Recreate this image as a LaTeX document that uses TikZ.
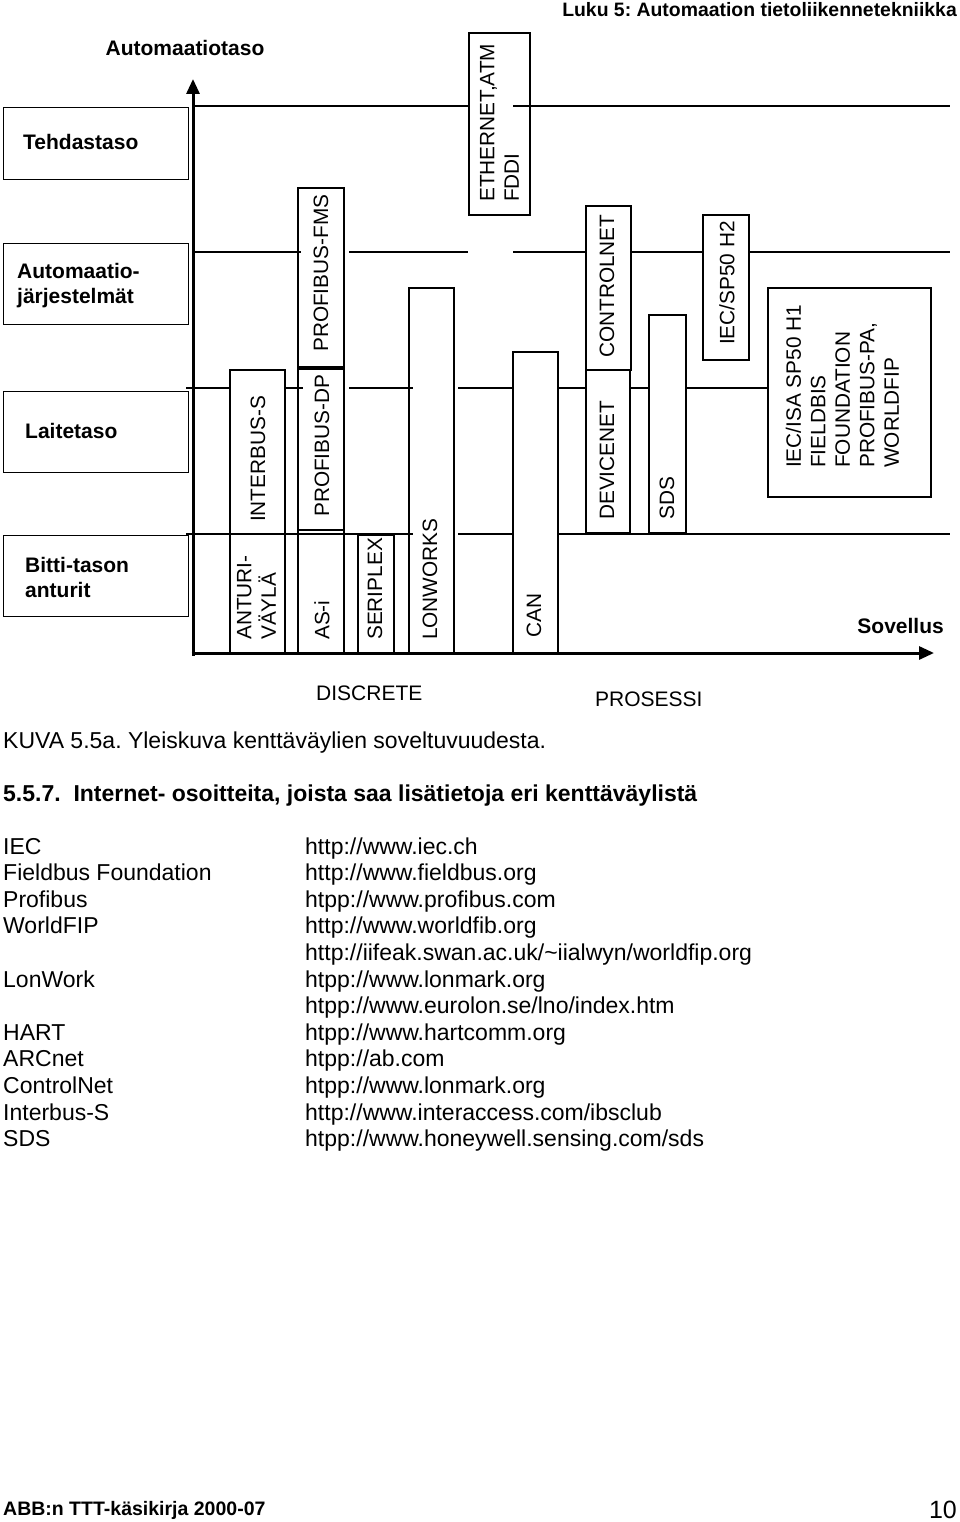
\documentclass[tikz,border=0pt]{standalone}
\usepackage{fontspec}
\setmainfont{Liberation Sans}
\usetikzlibrary{arrows.meta}
\frenchspacing
\begin{document}
\begin{tikzpicture}[x=1pt,y=-1pt,
  box/.style={draw,line width=1.3pt},
  gridline/.style={line width=1.3pt},
  axisline/.style={line width=3pt,-{Triangle[length=15pt,width=13pt]}},
  lbl/.style={font=\fontsize{21}{25}\selectfont\bfseries,anchor=west,inner sep=0,align=left},
  vt/.style={rotate=90,anchor=west,inner sep=0,font=\fontsize{20.8}{24.5}\selectfont,align=left},
  txt/.style={anchor=base west,inner sep=0,font=\fontsize{23}{26.6}\selectfont}]
\useasboundingbox (0,0) rectangle (960,1522);

% header
\node[anchor=east,inner sep=0,font=\fontsize{19.4}{23}\selectfont\bfseries] (hdr) at (957,10) {Luku 5: Automaation tietoliikennetekniikka};

% grid lines
\draw[gridline] (193,106) -- (469,106) (513,106) -- (950,106);
\draw[gridline] (193,252) -- (301,252) (349,252) -- (468,252) (513,252) -- (586,252) (631,252) -- (703,252) (749,252) -- (950,252);
\draw[gridline] (186,388) -- (230,388) (285,388) -- (303,388) (349,388) -- (413,388) (458,388) -- (513,388) (558,388) -- (586,388) (631,388) -- (649,388) (686,388) -- (768,388);
\draw[gridline] (186,534) -- (413,534) (458,534) -- (513,534) (558,534) -- (950,534);

% axes
\coordinate (ytip) at (193,79);
\coordinate (xtip) at (934,653);
\draw[axisline] (193,655.5) -- (ytip);
\draw[axisline] (191.5,653) -- (xtip);

% left level boxes
\node[box,minimum width=185pt,minimum height=72pt,anchor=north west] (teh) at (3,107) {};
\node[lbl] (tehT) at (23,142) {Tehdastaso};
\node[box,minimum width=185pt,minimum height=81pt,anchor=north west] (aut) at (3,243) {};
\node[lbl] (autT) at (17,285.5) {Automaatio-\\järjestelmät};
\node[box,minimum width=185pt,minimum height=81pt,anchor=north west] (lai) at (3,391) {};
\node[lbl] (laiT) at (25,431) {Laitetaso};
\node[box,minimum width=185pt,minimum height=81pt,anchor=north west] (bit) at (3,535) {};
\node[lbl] (bitT) at (25,577.5) {Bitti-tason\\anturit};

\node[font=\fontsize{21}{25}\selectfont\bfseries,inner sep=0] (axT) at (185,48) {Automaatiotaso};
\node[font=\fontsize{21}{25}\selectfont\bfseries,inner sep=0,anchor=east] (sov) at (944,626) {Sovellus};

% bus boxes
\draw[box] (469,33) rectangle (530,215);
\node[vt] (eth) at (499.5,202) {ETHERNET,ATM\\FDDI};
\draw[box] (298,188) rectangle (344,367);
\node[vt] (pfms) at (321,352) {PROFIBUS-FMS};
\draw[box] (298,369) rectangle (344,530);
\node[vt] (pdp) at (322,517) {PROFIBUS-DP};
\draw[box] (298,530) rectangle (344,653);
\node[vt] (asi) at (322,640) {AS-i};
\draw[box] (230,370) rectangle (285,534);
\node[vt] (ibs) at (258,522) {INTERBUS-S};
\draw[box] (230,534) rectangle (285,653);
\node[vt] (ant) at (256.5,640) {ANTURI-\\VÄYLÄ};
\draw[box] (358,535) rectangle (394,653);
\node[vt] (ser) at (375,640) {SERIPLEX};
\draw[box] (409,288) rectangle (454,653);
\node[vt] (lon) at (430,640) {LONWORKS};
\draw[box] (513,352) rectangle (558,653);
\node[vt] (can) at (534,638) {CAN};
\draw[box] (586,206) rectangle (631,370);
\node[vt] (ctl) at (607,358) {CONTROLNET};
\draw[box] (586,370) rectangle (630,533);
\node[vt] (dev) at (607,520) {DEVICENET};
\draw[box] (649,315) rectangle (686,533);
\node[vt] (sds) at (667,520) {SDS};
\draw[box] (703,215) rectangle (749,360);
\node[vt] (h2) at (727,345) {IEC/SP50 H2};
\draw[box] (768,288) rectangle (931,497);
\node[vt] (h1) at (842.5,468) {IEC/ISA SP50 H1\\FIELDBIS\\FOUNDATION\\PROFIBUS-PA,\\WORLDFIP};

% lower texts
\node[txt,font=\fontsize{21}{25}\selectfont] (dis) at (316,700.5) {DISCRETE};
\node[txt,font=\fontsize{21}{25}\selectfont] (pro) at (595,706.5) {PROSESSI};
\node[txt] (kuva) at (3,748) {KUVA 5.5a. Yleiskuva kenttäväylien soveltuvuudesta.};
\node[txt,font=\fontsize{23}{26.6}\selectfont\bfseries] (sec) at (3,801) {5.5.7.\ \ Internet- osoitteita, joista saa lisätietoja eri kenttäväylistä};

% address list
\node[txt] (n1) at (3,854) {IEC};
\node[txt] (n2) at (3,880.6) {Fieldbus Foundation};
\node[txt] (n3) at (3,907.2) {Profibus};
\node[txt] (n4) at (3,933.8) {WorldFIP};
\node[txt] (n6) at (3,987) {LonWork};
\node[txt] (n8) at (3,1040.2) {HART};
\node[txt] (n9) at (3,1066.8) {ARCnet};
\node[txt] (n10) at (3,1093.4) {ControlNet};
\node[txt] (n11) at (3,1120) {Interbus-S};
\node[txt] (n12) at (3,1146.6) {SDS};

\node[txt] (u1) at (305,854) {http://www.iec.ch};
\node[txt] (u2) at (305,880.6) {http://www.fieldbus.org};
\node[txt] (u3) at (305,907.2) {htpp://www.profibus.com};
\node[txt] (u4) at (305,933.8) {http://www.worldfib.org};
\node[txt] (u5) at (305,960.4) {http://iifeak.swan.ac.uk/\textasciitilde iialwyn/worldfip.org};
\node[txt] (u6) at (305,987) {htpp://www.lonmark.org};
\node[txt] (u7) at (305,1013.6) {htpp://www.eurolon.se/lno/index.htm};
\node[txt] (u8) at (305,1040.2) {htpp://www.hartcomm.org};
\node[txt] (u9) at (305,1066.8) {htpp://ab.com};
\node[txt] (u10) at (305,1093.4) {htpp://www.lonmark.org};
\node[txt] (u11) at (305,1120) {http://www.interaccess.com/ibsclub};
\node[txt] (u12) at (305,1146.6) {htpp://www.honeywell.sensing.com/sds};

% footer
\node[anchor=west,inner sep=0,font=\fontsize{19.5}{23}\selectfont\bfseries] (foot) at (3,1510) {ABB:n TTT-käsikirja 2000-07};
\node[anchor=east,inner sep=0,font=\fontsize{25}{30}\selectfont] (pg) at (957,1510) {10};
\end{tikzpicture}
\end{document}
